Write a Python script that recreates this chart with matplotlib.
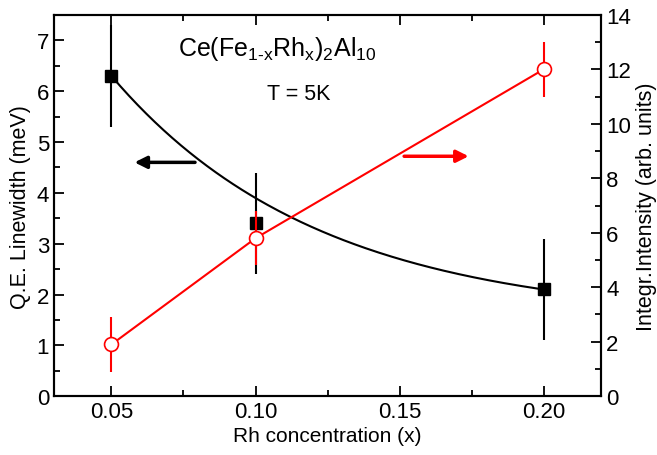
import numpy as np
import matplotlib
matplotlib.use("Agg")
import matplotlib.pyplot as plt
from matplotlib.ticker import MultipleLocator

plt.rcParams["font.family"] = ["Liberation Sans", "DejaVu Sans"]
plt.rcParams["mathtext.fontset"] = "custom"
plt.rcParams["mathtext.rm"] = "Liberation Sans"
plt.rcParams["mathtext.it"] = "Liberation Sans"

# Rh concentration
rh_x = [0.05, 0.10, 0.20]
# quasi-elastic linewidth (meV) with errors
linewidth = [6.3, 3.4, 2.1]
linewidth_err = [1.0, 1.0, 1.0]
# integrated intensity (arb. units) with errors
intensity = [1.9, 5.8, 12.0]
intensity_err = [1.0, 1.0, 1.0]

# exponential-decay fit of the linewidth: y0 + A*exp(-x/t)
fit_y0, fit_A, fit_t = 1.5, 9.6, 0.0721

fig = plt.figure(figsize=(6.57, 4.56), dpi=100)
ax = fig.add_axes([0.082, 0.129, 0.833, 0.836])
ax2 = ax.twinx()

xf = np.linspace(0.05, 0.20, 200)
ax.plot(xf, fit_y0 + fit_A * np.exp(-xf / fit_t), color="black", lw=1.5, zorder=2)
ax.errorbar(rh_x, linewidth, yerr=linewidth_err, fmt="s", color="black",
            ms=9, elinewidth=1.5, capsize=0, zorder=3)

ax2.errorbar(rh_x, intensity, yerr=intensity_err, fmt="-o", color="red",
             mfc="white", mec="red", ms=10, mew=1.2, lw=1.5,
             elinewidth=1.5, capsize=0)

ax.set_xlim(0.03, 0.22)
ax.set_ylim(0, 7.5)
ax2.set_ylim(0, 14)

ax.xaxis.set_major_locator(MultipleLocator(0.05))
ax.xaxis.set_minor_locator(MultipleLocator(0.025))
ax.yaxis.set_major_locator(MultipleLocator(1))
ax.yaxis.set_minor_locator(MultipleLocator(0.5))
ax2.yaxis.set_major_locator(MultipleLocator(2))
ax2.yaxis.set_minor_locator(MultipleLocator(1))
ax.set_xticks([0.05, 0.10, 0.15, 0.20])
ax.set_xticklabels(["0.05", "0.10", "0.15", "0.20"])

ax.tick_params(which="both", direction="in", top=True, right=False,
               labelsize=16, width=1.3)
ax.tick_params(which="major", length=7)
ax.tick_params(which="minor", length=4)
ax2.tick_params(which="both", direction="in", labelsize=16, width=1.3)
ax2.tick_params(which="major", length=7)
ax2.tick_params(which="minor", length=4)

for a in (ax, ax2):
    for s in a.spines.values():
        s.set_linewidth(1.5)

ax.set_xlabel("Rh concentration (x)", fontsize=15, labelpad=3)
ax.set_ylabel("Q.E. Linewidth (meV)", fontsize=15.5, labelpad=4)
ax2.set_ylabel("Integr.Intensity (arb. units)", fontsize=15.5, labelpad=4)

ax.annotate("", xy=(0.058, 4.6), xytext=(0.079, 4.6),
            arrowprops=dict(arrowstyle="-|>", color="black", lw=2.5,
                            mutation_scale=18, shrinkA=0, shrinkB=0))
ax.annotate("", xy=(0.174, 4.72), xytext=(0.1516, 4.72),
            arrowprops=dict(arrowstyle="-|>", color="red", lw=2.5,
                            mutation_scale=18, shrinkA=0, shrinkB=0))

ax.text(0.1077, 6.85, r"$\mathrm{Ce(Fe_{1\text{-}x}Rh_x)_2Al_{10}}$",
        fontsize=18, ha="center", va="center")
ax.text(0.115, 5.95, "T = 5K", fontsize=15.5, ha="center", va="center")

fig.savefig("out.png", dpi=100)
